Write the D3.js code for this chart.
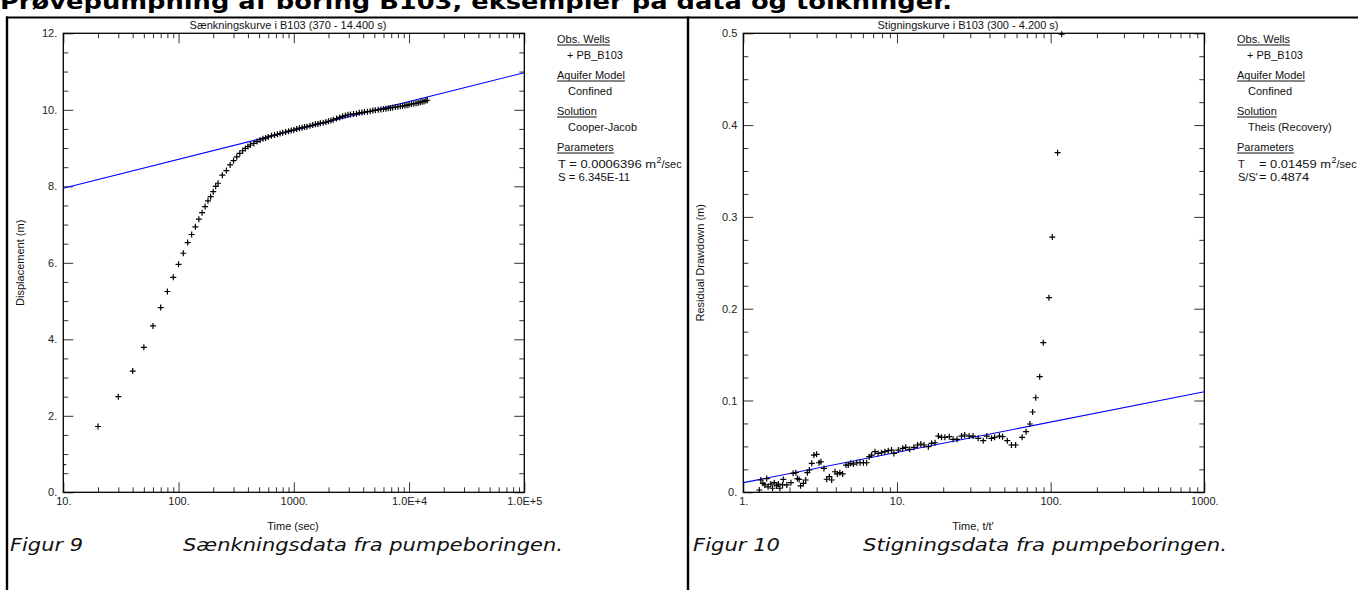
<!DOCTYPE html>
<html>
<head>
<meta charset="utf-8">
<script src="https://cdn.jsdelivr.net/npm/d3@7"></script>
<style>
  html, body { margin: 0; padding: 0; background: #fff; overflow: hidden; }
  svg { display: block; }
</style>
</head>
<body>
<svg id="page" width="1358" height="590"></svg>
<script>
// ---- Drawdown test, well B103 (time in s, displacement in m) ----
const drawdownTime = [10, 20, 30, 40, 50, 60, 70, 80, 90, 100, 110, 120, 130, 140, 150, 160, 170, 180, 190, 200,
  210, 220, 240, 260, 280, 300, 320, 340, 360, 380, 400, 420, 450, 480, 510, 540, 570, 600, 640, 680, 720, 760,
  800, 850, 900, 950, 1000, 1060, 1120, 1180, 1240, 1300, 1380, 1460, 1540, 1620, 1700, 1800, 1900, 2000, 2100,
  2200, 2350, 2500, 2650, 2800, 2950, 3100, 3300, 3500, 3700, 3900, 4100, 4350, 4600, 4850, 5100, 5400, 5700,
  6000, 6300, 6600, 6900, 7200, 7600, 8000, 8400, 8800, 9200, 9600, 10000, 10500, 11000, 11500, 12000, 12500,
  13000, 13500, 14000, 14400];
const drawdownValue = [0.72, 1.72, 2.50, 3.17, 3.79, 4.35, 4.83, 5.25, 5.62, 5.96, 6.25, 6.53, 6.74, 6.94, 7.14,
  7.31, 7.47, 7.62, 7.73, 7.86, 8.00, 8.08, 8.29, 8.41, 8.56, 8.67, 8.77, 8.86, 8.93, 8.99, 9.04, 9.08, 9.12, 9.17,
  9.21, 9.24, 9.26, 9.29, 9.32, 9.34, 9.36, 9.38, 9.40, 9.42, 9.44, 9.46, 9.47, 9.50, 9.52, 9.53, 9.55, 9.56, 9.58,
  9.60, 9.62, 9.63, 9.65, 9.66, 9.68, 9.70, 9.72, 9.74, 9.77, 9.80, 9.83, 9.85, 9.87, 9.88, 9.89, 9.90, 9.92, 9.93,
  9.94, 9.95, 9.96, 9.98, 9.99, 10.00, 10.01, 10.02, 10.03, 10.04, 10.05, 10.06, 10.07, 10.08, 10.09, 10.10, 10.11,
  10.12, 10.13, 10.15, 10.16, 10.17, 10.18, 10.20, 10.21, 10.22, 10.24, 10.25];
// Cooper-Jacob straight line (end points)
const cjTime = [10, 100000];
const cjValue = [7.95, 10.97];

// ---- Recovery test, well B103 (t/t', residual drawdown in m) ----
const recoveryRatio = [1.27, 1.30, 1.34, 1.38, 1.42, 1.45, 1.51, 1.55, 1.59, 1.65, 1.69, 1.73, 1.80, 1.82, 1.92,
  2.04, 2.11, 2.20, 2.25, 2.31, 2.36, 2.46, 2.55, 2.61, 2.69, 2.79, 2.88, 3.00, 3.11, 3.20, 3.35, 3.49, 3.63, 3.76,
  3.95, 4.09, 4.25, 4.43, 4.66, 4.82, 5.00, 5.20, 5.48, 5.75, 6.05, 6.35, 6.60, 6.84, 7.19, 7.55, 7.93, 8.34, 8.77,
  9.22, 9.55, 10.2, 10.9, 11.4, 12.1, 12.9, 13.6, 14.3, 15.0, 16.0, 16.8, 17.7, 18.6, 19.5, 20.5, 21.9, 23.2, 24.6,
  26.3, 27.6, 29.5, 31.3, 33.8, 36.4, 38.4, 41.2, 43.2, 46.4, 48.7, 52.2, 55.6, 59.2, 65.2, 69.2, 73.3, 76.4, 80.0,
  84.9, 89.6, 97.5, 102.5, 111, 118];
const residualDrawdown = [0.0025, 0.0134, 0.0098, 0.008, 0.015, 0.006, 0.009, 0.0044, 0.0105, 0.0069, 0.009,
  0.0044, 0.008, 0.014, 0.008, 0.0105, 0.0207, 0.0214, 0.015, 0.014, 0.007, 0.0098, 0.0134, 0.0214, 0.0243, 0.0316,
  0.0406, 0.0414, 0.0322, 0.0333, 0.026, 0.0142, 0.017, 0.0134, 0.0224, 0.020, 0.0214, 0.020, 0.0297, 0.0297,
  0.0316, 0.0308, 0.0322, 0.0322, 0.0322, 0.0322, 0.0388, 0.0406, 0.0442, 0.0424, 0.0431, 0.0442, 0.0453, 0.046,
  0.0424, 0.046, 0.0479, 0.049, 0.0468, 0.049, 0.0515, 0.0526, 0.0515, 0.0497, 0.0534, 0.054, 0.0613, 0.0599,
  0.0599, 0.0606, 0.0577, 0.0577, 0.0613, 0.0624, 0.0613, 0.0613, 0.0588, 0.0562, 0.0613, 0.0588, 0.0599, 0.0613,
  0.0606, 0.0562, 0.0515, 0.0515, 0.0599, 0.066, 0.0744, 0.0875, 0.103, 0.126, 0.163, 0.212, 0.278, 0.370, 0.499];
// Theis (Recovery) straight line (end points)
const theisRatio = [1, 1000];
const theisValue = [0.0105, 0.1096];

// ---- Axis ticks and labels ----
const ddXMajor = [10, 100, 1000, 10000, 100000];
const ddXLabels = ["10.", "100.", "1000.", "1.0E+4", "1.0E+5"];
const ddYMajor = [0, 2, 4, 6, 8, 10, 12];
const ddYLabels = ["0.", "2.", "4.", "6.", "8.", "10.", "12."];
const recXMajor = [1, 10, 100, 1000];
const recXLabels = ["1.", "10.", "100.", "1000."];
const recYMajor = [0, 0.1, 0.2, 0.3, 0.4, 0.5];
const recYLabels = ["0.", "0.1", "0.2", "0.3", "0.4", "0.5"];

const FONT = "Arial, 'Liberation Sans', sans-serif";
const svg = d3.select("#page");

// Page frame: heading, rule and column borders
svg.append("text")
  .attr("x", 0).attr("y", 9)
  .attr("font-family", "'DejaVu Sans', Verdana, sans-serif")
  .attr("font-weight", "bold").attr("font-size", 21)
  .attr("textLength", 952).attr("lengthAdjust", "spacingAndGlyphs")
  .text("Prøvepumpning af boring B103, eksempler på data og tolkninger.");
svg.append("line").attr("x1", 6).attr("x2", 1358).attr("y1", 17.5).attr("y2", 17.5)
  .attr("stroke", "#000").attr("stroke-width", 2);
[7, 688].forEach(x => svg.append("line").attr("x1", x).attr("x2", x).attr("y1", 16.5).attr("y2", 590)
  .attr("stroke", "#000").attr("stroke-width", 2.4));

const PL = 63.3, PR = 524.3, PT = 33.3, PB = 492.3;

function drawPanel(p) {
  const g = svg.append("g").attr("transform", `translate(${p.x0},0)`);
  const x = d3.scaleLog().domain(p.xDomain).range([PL, PR]);
  const y = d3.scaleLinear().domain(p.yDomain).range([PB, PT]);

  const xMinor = [];
  for (let i = 0; i < p.xMajor.length - 1; i++)
    for (let k = 2; k <= 9; k++) xMinor.push(p.xMajor[i] * k);
  const yMinor = d3.range(p.yDomain[0], p.yDomain[1] + 1e-9, p.yMinorStep)
    .filter(v => !p.yMajor.some(m => Math.abs(m - v) < 1e-9));

  function axis(gen, values, size, labels, tx, ty, pad) {
    const a = g.append("g").attr("transform", `translate(${tx},${ty})`)
      .call(gen.tickValues(values).tickSize(-size).tickSizeOuter(0).tickPadding(pad || 0)
        .tickFormat(labels ? (d, i) => labels[i] : () => ""));
    a.select(".domain").remove();
    a.attr("font-family", FONT).attr("font-size", 11);
    a.selectAll("line").attr("stroke", "#333").attr("stroke-width", 1);
    a.selectAll("text").attr("fill", "#222");
    return a;
  }
  axis(d3.axisBottom(x), p.xMajor, 10, p.xLabels, 0, PB, 5);
  axis(d3.axisBottom(x), xMinor, 5, null, 0, PB);
  axis(d3.axisTop(x), p.xMajor, 10, null, 0, PT);
  axis(d3.axisTop(x), xMinor, 5, null, 0, PT);
  axis(d3.axisLeft(y), p.yMajor, 10, p.yLabels, PL, 0, 6);
  axis(d3.axisLeft(y), yMinor, 5, null, PL, 0);
  axis(d3.axisRight(y), p.yMajor, 10, null, PR, 0);
  axis(d3.axisRight(y), yMinor, 5, null, PR, 0);

  g.append("rect").attr("x", PL).attr("y", PT).attr("width", PR - PL).attr("height", PB - PT)
    .attr("fill", "none").attr("stroke", "#000").attr("stroke-width", 1.3);

  const clipId = "clip" + p.x0;
  g.append("clipPath").attr("id", clipId).append("rect")
    .attr("x", PL).attr("y", 0).attr("width", PR - PL).attr("height", 590);

  // fitted straight line
  const fit = p.fitX.map((v, i) => [v, p.fitY[i]]);
  g.append("path").datum(fit)
    .attr("d", d3.line().x(d => x(d[0])).y(d => y(d[1])))
    .attr("fill", "none").attr("stroke", "#0000ff").attr("stroke-width", 1.1);

  // observations as "+" markers
  const pts = p.dataX.map((v, i) => [v, p.dataY[i]]);
  g.append("g").attr("clip-path", `url(#${clipId})`)
    .selectAll("path").data(pts).join("path")
    .attr("d", d => { const cx = x(d[0]), cy = y(d[1]); return `M${cx - 3},${cy}h6M${cx},${cy - 3}v6`; })
    .attr("stroke", "#000").attr("stroke-width", 1.2).attr("fill", "none");

  // titles
  g.append("text").attr("x", 288).attr("y", 28.5).attr("text-anchor", "middle")
    .attr("font-family", FONT).attr("font-size", 11).attr("fill", "#111").text(p.title);
  g.append("text").attr("x", 293).attr("y", 530).attr("text-anchor", "middle")
    .attr("font-family", FONT).attr("font-size", 11).attr("fill", "#111").text(p.xTitle);
  g.append("text").attr("transform", "translate(24,262.8) rotate(-90)").attr("text-anchor", "middle")
    .attr("font-family", FONT).attr("font-size", 11).attr("fill", "#111").text(p.yTitle);

  // legend
  const L = g.append("g").attr("font-family", FONT).attr("font-size", 11).attr("fill", "#111");
  function header(txt, yy) {
    const t = L.append("text").attr("x", 557).attr("y", yy).text(txt);
    const w = t.node().getComputedTextLength();
    L.append("line").attr("x1", 557).attr("x2", 557 + w).attr("y1", yy + 2).attr("y2", yy + 2)
      .attr("stroke", "#111").attr("stroke-width", 1);
  }
  header("Obs. Wells", 43);
  L.append("text").attr("x", 567).attr("y", 59).text("+ PB_B103");
  header("Aquifer Model", 79);
  L.append("text").attr("x", 568).attr("y", 95).text("Confined");
  header("Solution", 115);
  L.append("text").attr("x", 568).attr("y", 131).text(p.solution);
  header("Parameters", 151);

  // parameter lines: [label, value, value x, value width]
  const t1 = L.append("text").attr("x", 558).attr("y", 168);
  const t2 = L.append("text").attr("x", 558).attr("y", 181);
  [[t1, p.param1], [t2, p.param2]].forEach(([t, par]) => {
    if (par[0]) t.append("tspan").text(par[0]);
    t.append("tspan").attr("x", par[2]).attr("textLength", par[3])
      .attr("lengthAdjust", "spacingAndGlyphs").text(par[1]);
  });
  t1.append("tspan").attr("font-size", 9).attr("dy", -5).attr("dx", 0.5).text("2");
  t1.append("tspan").attr("dy", 5).text("/sec");

  // figure caption
  const C = g.append("g").attr("font-family", "'DejaVu Sans', Verdana, sans-serif")
    .attr("font-style", "italic").attr("font-size", 18).attr("fill", "#111");
  C.append("text").attr("x", p.capX[0]).attr("y", 550.5)
    .attr("textLength", p.capW[0]).attr("lengthAdjust", "spacingAndGlyphs").text(p.caption[0]);
  C.append("text").attr("x", p.capX[1]).attr("y", 550.5)
    .attr("textLength", p.capW[1]).attr("lengthAdjust", "spacingAndGlyphs").text(p.caption[1]);
}

drawPanel({
  x0: 0,
  xDomain: [10, 100000], yDomain: [0, 12], yMinorStep: 0.5,
  xMajor: ddXMajor, xLabels: ddXLabels, yMajor: ddYMajor, yLabels: ddYLabels,
  dataX: drawdownTime, dataY: drawdownValue, fitX: cjTime, fitY: cjValue,
  title: "Sænkningskurve i B103 (370 - 14.400 s)",
  xTitle: "Time (sec)", yTitle: "Displacement (m)",
  solution: "Cooper-Jacob",
  param1: [null, "T = 0.0006396 m", 558, 98], param2: [null, "S = 6.345E-11", 558, 72],
  caption: ["Figur 9", "Sænkningsdata fra pumpeboringen."], capX: [10, 183], capW: [73, 380]
});

drawPanel({
  x0: 680,
  xDomain: [1, 1000], yDomain: [0, 0.5], yMinorStep: 0.025,
  xMajor: recXMajor, xLabels: recXLabels, yMajor: recYMajor, yLabels: recYLabels,
  dataX: recoveryRatio, dataY: residualDrawdown, fitX: theisRatio, fitY: theisValue,
  title: "Stigningskurve i B103 (300 - 4.200 s)",
  xTitle: "Time, t/t'", yTitle: "Residual Drawdown (m)",
  solution: "Theis (Recovery)",
  param1: ["T", "= 0.01459 m", 579, 72], param2: ["S/S'", "= 0.4874", 579, 50],
  caption: ["Figur 10", "Stigningsdata fra pumpeboringen."], capX: [13, 183], capW: [87, 364]
});
</script>
</body>
</html>
